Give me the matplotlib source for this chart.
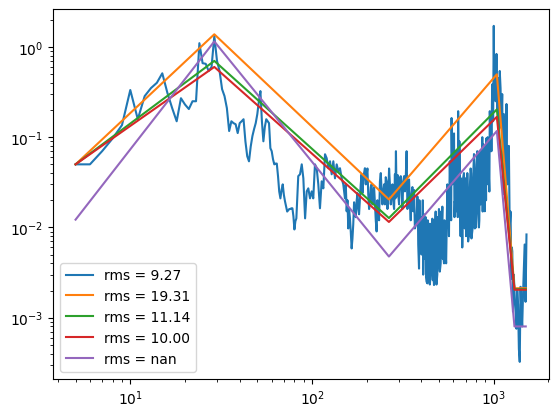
import numpy as np
import matplotlib
matplotlib.use('Agg')
import matplotlib.pyplot as plt

# measured spectrum, low part (1 Hz bins)
freq_lo = np.arange(5, 85)
amp_lo = [0.050, 0.050, 0.070, 0.097, 0.136, 0.333, 0.158, 0.285, 0.35, 0.40,
          0.51, 0.31, 0.21, 0.15, 0.27, 0.23, 0.205, 0.25, 0.25, 1.10,
          0.66, 0.65, 0.54, 0.60, 1.32, 0.70, 0.54, 0.34, 0.285, 0.21,
          0.117, 0.15, 0.143, 0.139, 0.111, 0.143, 0.15, 0.158, 0.090, 0.0615,
          0.054, 0.079, 0.103, 0.123, 0.143, 0.18, 0.25, 0.324, 0.15, 0.09,
          0.13, 0.158, 0.15, 0.143, 0.0755, 0.070, 0.057, 0.050, 0.051, 0.051,
          0.037, 0.025, 0.021, 0.026, 0.030, 0.023, 0.0195, 0.017, 0.015, 0.0155,
          0.016, 0.016, 0.0163, 0.0163, 0.0133, 0.0095, 0.0117, 0.0126, 0.022, 0.037]

# measured spectrum, high part
freq_hi = [85.9, 87.8, 89.6, 91.6, 93.5, 95.4, 97.5, 99.6, 101.6, 103.8,
           106.1, 108.3, 110.6, 113.0, 115.4, 117.9, 120.4, 123.0, 125.6, 128.3,
           131.0, 133.8, 136.7, 139.5, 142.5, 145.6, 148.6, 151.8, 155.1, 158.3,
           161.7, 165.2, 168.6, 172.2, 176.0, 179.6, 183.5, 187.4, 191.4, 195.5,
           199.8, 203.9, 208.3, 212.8, 217.3, 221.9, 226.7, 231.4, 236.4, 241.5,
           246.6, 251.8, 257.3, 262.7, 268.3, 274.1, 279.9, 285.9, 289.6, 294.4,
           298.1, 304.6, 311.1, 317.7, 324.6, 331.5, 338.4, 345.6, 353.1, 360.5,
           368.2, 376.1, 384.1, 392.1, 400.6, 409.0, 417.8, 426.7, 435.6, 444.9,
           454.6, 464.2, 474.0, 484.1, 494.2, 505, 516, 527, 538, 550,
           561, 573, 586, 598, 611, 624, 637, 650, 664, 678,
           693, 708, 723, 738, 754, 770, 787, 803, 820, 838,
           856, 874, 893, 912, 931, 951, 971, 984, 1000, 1013,
           1035, 1057, 1079, 1102, 1125, 1149, 1175, 1199, 1224, 1251,
           1265, 1276, 1303, 1333, 1361, 1390, 1419, 1449, 1479, 1514]
amp_hi = [0.0388, 0.050, 0.035, 0.0126, 0.0251, 0.0271, 0.021, 0.0251, 0.021, 0.050,
          0.0453, 0.030, 0.0163, 0.0324, 0.0271, 0.0647, 0.0585, 0.0453, 0.0541, 0.0388,
          0.0541, 0.035, 0.050, 0.0419, 0.0453, 0.035, 0.030, 0.021, 0.0151, 0.00975,
          0.0126, 0.00585, 0.0108, 0.0151, 0.0195, 0.0163, 0.021, 0.0388, 0.0324, 0.0453,
          0.0388, 0.0233, 0.0195, 0.030, 0.0233, 0.018, 0.00903, 0.0151, 0.0324, 0.0251,
          0.0251, 0.018, 0.0324, 0.0221, 0.030, 0.0251, 0.0195, 0.0388, 0.0699, 0.0324,
          0.0233, 0.035, 0.0271, 0.0324, 0.0251, 0.0699, 0.0233, 0.018, 0.0233, 0.0151,
          0.00975, 0.0126, 0.00647, 0.00836, 0.00501, 0.0030, 0.00453, 0.00251, 0.00836, 0.00233,
          0.00585, 0.0035, 0.00699, 0.00233, 0.00541, 0.00324, 0.00836, 0.00501, 0.00975, 0.00836,
          0.0195, 0.0541, 0.163, 0.090, 0.0195, 0.0699, 0.194, 0.0453, 0.0163, 0.035,
          0.00975, 0.0195, 0.00699, 0.0271, 0.00755, 0.035, 0.00975, 0.0419, 0.0151, 0.0699,
          0.021, 0.0836, 0.0151, 0.0975, 0.030, 0.194, 0.0699, 0.388, 1.71, 0.647,
          0.836, 0.453, 0.541, 0.126, 0.0233, 0.0836, 0.233, 0.0541, 0.00975, 0.00271,
          0.00541, 0.00117, 0.0018, 0.000755, 0.00139, 0.000324, 0.00117, 0.0018, 0.00647, 0.00836]

# extra readings inside the noisy band
freq_fill = [153.4, 156.7, 160, 163.4, 166.9, 170.4, 174.1, 177.8, 181.5, 185.4,
             189.4, 193.4, 197.6, 201.8, 206.1, 210.5, 215, 219.6, 224.3, 229,
             233.9, 239, 244, 249.2, 254.5, 260, 265.5, 271.2, 277, 282.9,
             287.7, 292, 296.2, 301.3, 307.8, 314.4, 321.1, 328, 334.9, 342,
             349.3, 356.8, 364.3, 372.1, 380, 388, 396.3, 404.8, 413.4, 422.2,
             431.1, 440.2, 449.7, 459.4, 469.1, 479, 489.1, 499.6, 510.5, 521.5,
             532.5, 544, 555.5, 567, 579.5, 592, 604.5, 617.5, 630.5, 643.5,
             657, 671, 685.5, 700.5, 715.5, 730.5, 746, 762, 778.5, 795,
             811.5, 829, 847, 865, 883.5, 902.5, 921.5, 941, 961, 977.5,
             992, 1006, 1024, 1046, 1068, 1090, 1113, 1137, 1162, 1187,
             1211, 1237, 1258, 1270, 1289, 1318, 1347, 1375, 1404, 1434,
             1464, 1496]
amp_fill = [0.030, 0.020, 0.016, 0.009, 0.0075, 0.019, 0.013, 0.024, 0.014, 0.030,
            0.024, 0.040, 0.030, 0.045, 0.016, 0.028, 0.018, 0.028, 0.012, 0.020,
            0.012, 0.040, 0.018, 0.030, 0.036, 0.016, 0.045, 0.018, 0.030, 0.016,
            0.021, 0.022, 0.038, 0.018, 0.037, 0.016, 0.037, 0.036, 0.016, 0.034,
            0.012, 0.028, 0.026, 0.0105, 0.022, 0.0035, 0.013, 0.0095, 0.014, 0.013,
            0.0024, 0.011, 0.003, 0.0125, 0.0023, 0.015, 0.003, 0.016, 0.004, 0.017,
            0.004, 0.005, 0.030, 0.008, 0.015, 0.030, 0.110, 0.015, 0.020, 0.014,
            0.008, 0.006, 0.040, 0.035, 0.040, 0.009, 0.045, 0.009, 0.065, 0.012,
            0.070, 0.010, 0.018, 0.100, 0.020, 0.060, 0.050, 0.035, 0.070, 0.250,
            0.150, 0.400, 0.250, 0.200, 0.120, 0.350, 0.300, 0.180, 0.040, 0.030,
            0.080, 0.015, 0.006, 0.0025, 0.003, 0.0012, 0.002, 0.00045, 0.0022, 0.0008,
            0.0035, 0.0015]

freq_fill2 = [382, 390, 398, 407, 415, 424, 433, 442, 452, 462,
              471, 481, 491, 502, 513, 524, 535, 547, 558, 570,
              583, 595, 608, 621, 634, 647, 660, 674, 689, 704,
              719, 734, 750, 766, 783, 799, 816, 833, 851, 869,
              888, 907, 926, 946, 966]
amp_fill2 = [0.018, 0.020, 0.006, 0.020, 0.005, 0.0028, 0.012, 0.0025, 0.011, 0.0026,
             0.012, 0.0028, 0.013, 0.0035, 0.015, 0.0045, 0.012, 0.004, 0.010, 0.025,
             0.012, 0.080, 0.013, 0.060, 0.013, 0.090, 0.035, 0.008, 0.025, 0.008,
             0.030, 0.008, 0.040, 0.010, 0.050, 0.010, 0.050, 0.012, 0.060, 0.015,
             0.080, 0.020, 0.100, 0.025, 0.150]

# piecewise fits
knots = [5, 29, 265, 1040, 1300, 1500]
fit_a = [0.05, 1.38, 0.0204, 0.497, 0.00212, 0.00212]
fit_b = [0.05, 0.70, 0.0127, 0.203, 0.00207, 0.00207]
fit_c = [0.05, 0.60, 0.0115, 0.168, 0.00204, 0.00204]
fit_d = [0.0122, 1.15, 0.00476, 0.117, 0.00080, 0.00080]
labels = ['rms = 9.27', 'rms = 19.31', 'rms = 11.14', 'rms = 10.00', 'rms = nan']

freq = np.concatenate([freq_lo, freq_hi, freq_fill, freq_fill2])
amp = np.concatenate([amp_lo, amp_hi, amp_fill, amp_fill2])
order = np.argsort(freq)
freq, amp = freq[order], amp[order]

fig, ax = plt.subplots(figsize=(6.4, 4.8), dpi=100)
ax.loglog(freq, amp, label=labels[0])
for vals, lab in zip([fit_a, fit_b, fit_c, fit_d], labels[1:]):
    ax.loglog(knots, vals, label=lab)
ax.legend(loc='lower left')
fig.savefig('out.png', bbox_inches='tight')
